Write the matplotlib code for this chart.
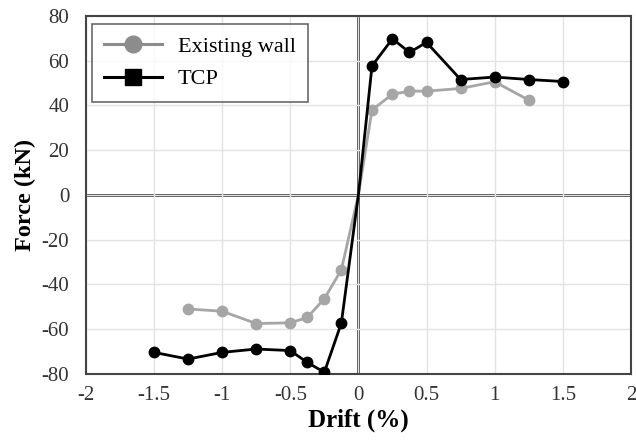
import matplotlib
matplotlib.use('Agg')
import matplotlib.pyplot as plt

plt.rcParams['font.family'] = ['Liberation Serif', 'DejaVu Serif']
plt.rcParams['axes.unicode_minus'] = False

# 数据
wall_drift = [-1.25, -1.0, -0.75, -0.5, -0.375, -0.25, -0.125, 0.0,
              0.1, 0.25, 0.375, 0.5, 0.75, 1.0, 1.25]
wall_force = [-51, -52, -57.5, -57.2, -54.8, -46.4, -33.5, 0,
              38, 45, 46.4, 46.4, 47.6, 50.6, 42.4]

tcp_drift = [-1.5, -1.25, -1.0, -0.75, -0.5, -0.375, -0.25, -0.125, 0.0,
             0.1, 0.25, 0.375, 0.5, 0.75, 1.0, 1.25, 1.5]
tcp_force = [-70.4, -73.4, -70.4, -68.9, -69.6, -74.9, -79.3, -57.3, 0,
             57.7, 69.8, 63.7, 68.2, 51.6, 52.7, 51.6, 50.7]

x_ticks = [-2, -1.5, -1, -0.5, 0, 0.5, 1, 1.5, 2]
x_tick_labels = ['-2', '-1.5', '-1', '-0.5', '0', '0.5', '1', '1.5', '2']
y_ticks = [-80, -60, -40, -20, 0, 20, 40, 60, 80]

fig = plt.figure(figsize=(6.36, 4.44), dpi=100)
ax = fig.add_axes([0.135, 0.158, 0.857, 0.806])

ax.grid(True, color='#e3e3e3', linewidth=1.0, zorder=0)
ax.axhline(0, color='#333333', linewidth=2.0, zorder=1)
ax.axvline(0, color='#333333', linewidth=2.0, zorder=1)

# 原点处无标记
wall_marks = [i for i, v in enumerate(wall_drift) if v != 0]
tcp_marks = [i for i, v in enumerate(tcp_drift) if v != 0]
ax.plot(wall_drift, wall_force, color='#a6a6a6', linewidth=2.0,
        marker='o', markersize=7.5, markevery=wall_marks, zorder=3)
ax.plot(tcp_drift, tcp_force, color='#000000', linewidth=2.0,
        marker='o', markersize=7.5, markevery=tcp_marks, zorder=4)

# 图例（TCP 用方形标记）
h1, = ax.plot([], [], color='#8c8c8c', linewidth=2.2, marker='o', markersize=12)
h2, = ax.plot([], [], color='#000000', linewidth=2.2, marker='s', markersize=11)
leg = ax.legend([h1, h2], ['Existing wall', 'TCP'], loc='upper left',
                bbox_to_anchor=(-0.003, 1.0), fontsize=16, frameon=True,
                fancybox=False, edgecolor='#444444', handlelength=2.6,
                borderpad=0.55, labelspacing=0.55, handletextpad=0.7,
                borderaxespad=0.35)
leg.get_frame().set_linewidth(1.2)

ax.set_xlim(-2, 2)
ax.set_ylim(-80, 80)
ax.set_xticks(x_ticks)
ax.set_xticklabels(x_tick_labels)
ax.set_yticks(y_ticks)
ax.tick_params(length=0, labelsize=15, colors='#333333')
ax.tick_params(axis='x', pad=9)
ax.tick_params(axis='y', pad=12)
for s in ax.spines.values():
    s.set_color('#444444')
    s.set_linewidth(1.5)

ax.set_xlabel('Drift (%)', fontsize=18, fontweight='bold', labelpad=2)
ax.set_ylabel('Force (kN)', fontsize=17.5, fontweight='bold', labelpad=4)

fig.savefig('out.png', dpi=100, facecolor='white')
plt.close(fig)
